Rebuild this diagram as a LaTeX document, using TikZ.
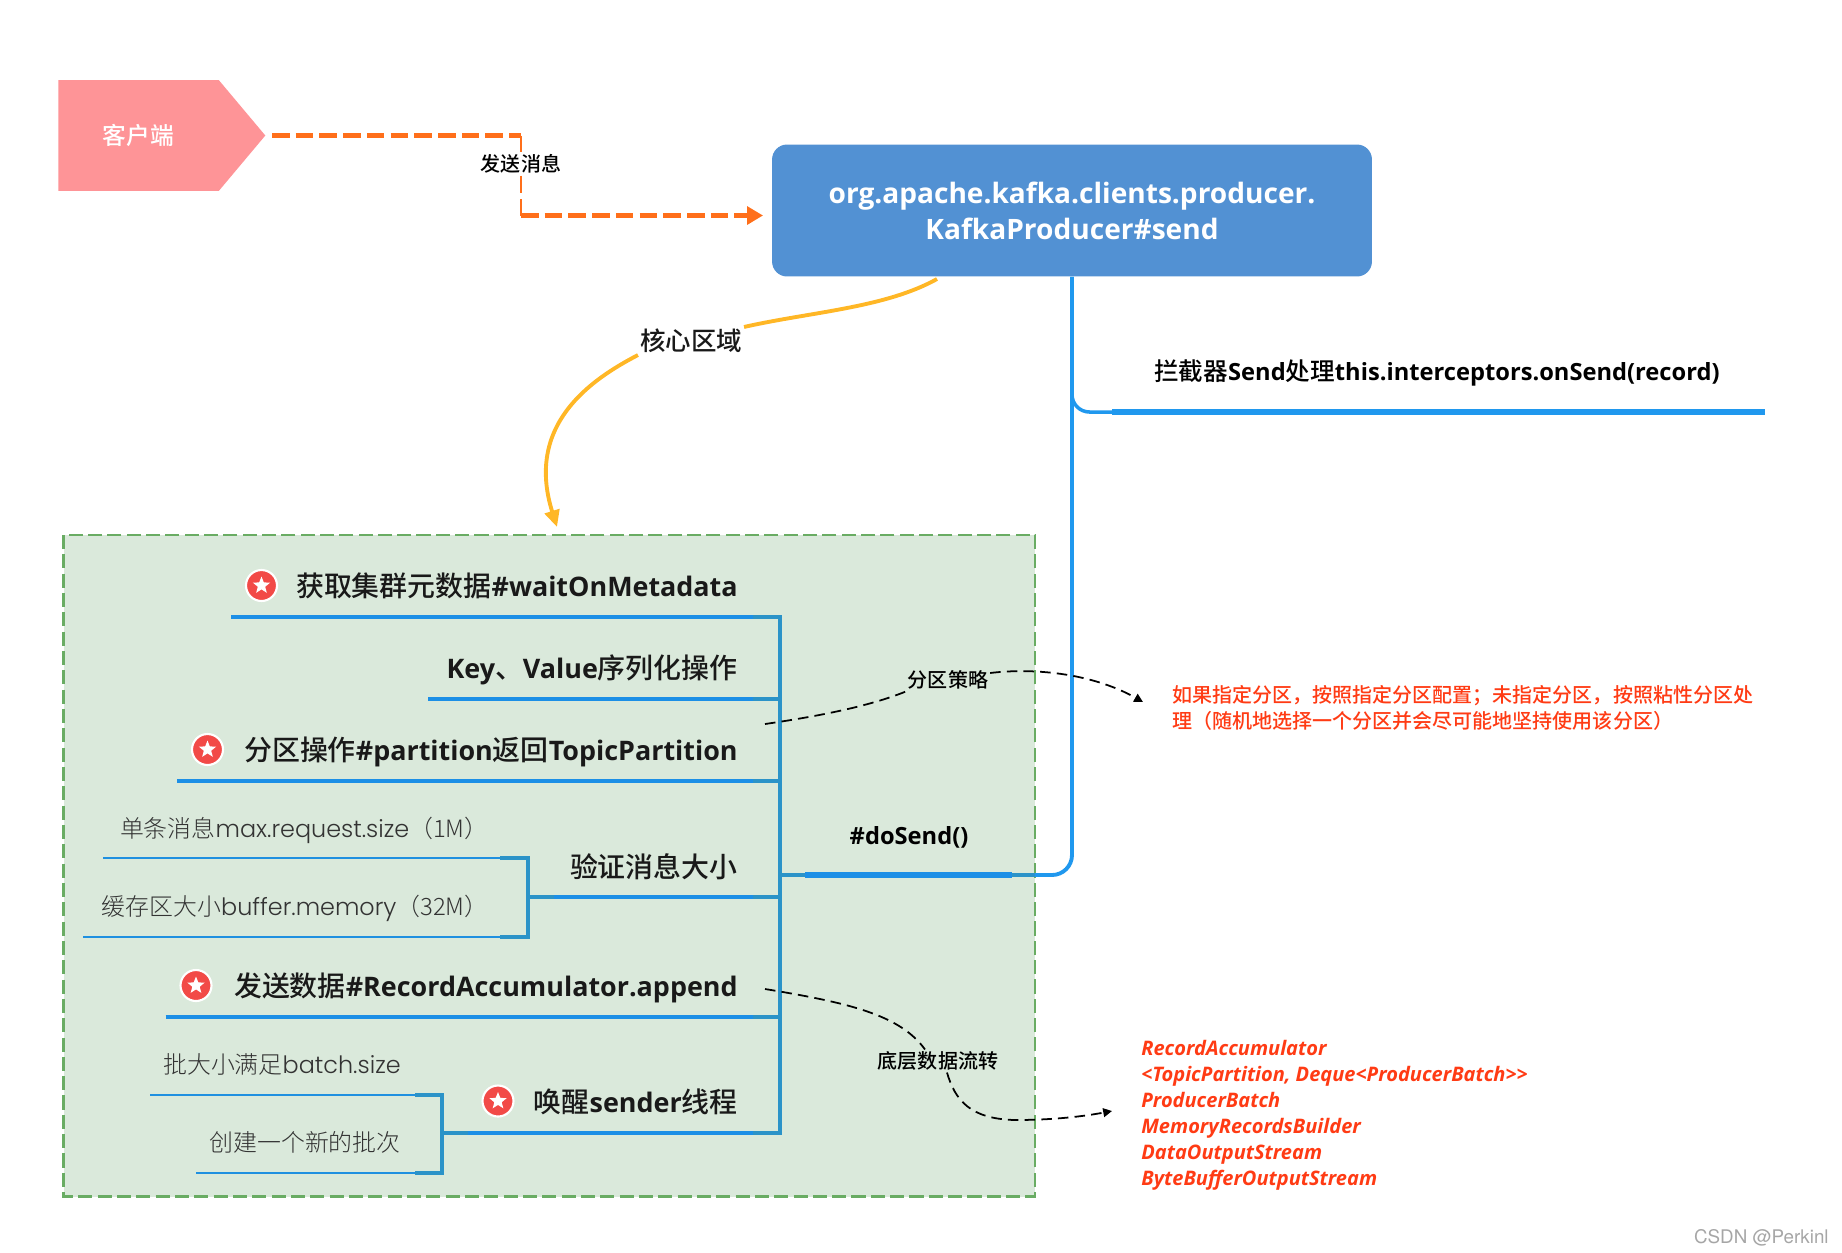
\documentclass[tikz,border=0pt]{standalone}
\usepackage{fontspec}
\usetikzlibrary{arrows.meta,shapes.geometric,shapes.symbols}
\setmainfont{Open Sans}
\newfontfamily\semilat[Scale=0.963]{Open Sans}
\newfontfamily\semicjk{Noto Sans CJK SC Medium}
\newfontfamily\thinlat{Poppins Light}
\newfontfamily\thincjk{Noto Sans CJK SC Light}
\newfontfamily\markfont{TeX Gyre Heros}
\newcommand\zh[1]{{\zhf\mdseries #1}}
\newcommand\usesemi{\let\zhf\semicjk\semilat\bfseries}
\newcommand\usethin{\let\zhf\thincjk\thinlat}
\definecolor{clientpink}{HTML}{FE9497}
\definecolor{sendorange}{HTML}{FF6F1A}
\definecolor{boxblue}{HTML}{5291D3}
\definecolor{coreyellow}{HTML}{FFB726}
\definecolor{zonefill}{HTML}{DAE9DB}
\definecolor{zoneline}{HTML}{69AC63}
\definecolor{linkblue}{HTML}{2098EE}
\definecolor{branchblue}{HTML}{1C8FE6}
\definecolor{trunkblue}{HTML}{2B93C8}
\definecolor{markred}{HTML}{F24A47}
\definecolor{notered}{HTML}{FF3B14}
\tikzset{
  clientbox/.style={signal, signal to=east, signal pointer angle=100, fill=clientpink,
    minimum width=4.14cm, minimum height=2.22cm, inner sep=0pt, anchor=west,
    text=white, font={\usesemi\fontsize{13.5}{16}\selectfont}},
  mainbox/.style={rectangle, rounded corners=0.3cm, fill=boxblue, minimum width=12cm,
    minimum height=2.64cm, align=center, text=white,
    font={\usesemi\fontsize{16.6}{20.5}\selectfont}},
  tag/.style={inner sep=1pt, font={\usesemi\fontsize{11.4}{14}\selectfont}},
  bigtag/.style={inner sep=0pt, anchor=base east, text=black!90, font={\usesemi\fontsize{15.9}{18}\selectfont}},
  thintag/.style={inner sep=0pt, anchor=base east, text=black!80, font={\usethin\fontsize{13.6}{16}\selectfont}},
  notetag/.style={inner sep=0pt, anchor=west, align=left, text=notered,
    font={\usesemi\fontsize{11.4}{15.2}\selectfont}},
  listtag/.style={inner sep=0pt, anchor=base west, text=notered,
    font={\fontsize{11.4}{14}\selectfont\bfseries\itshape}},
  sendline/.style={sendorange, line width=2.4pt, dash pattern=on 10pt off 3.5pt},
  sendstem/.style={sendorange, line width=1.5pt, dash pattern=on 10pt off 3.5pt},
  coreline/.style={coreyellow, line width=2.2pt},
  branch/.style={branchblue, line width=2.2pt},
  joint/.style={trunkblue, line width=2.5pt},
  twig/.style={branchblue!80!trunkblue, line width=1.2pt},
  noteline/.style={black, line width=1pt, dash pattern=on 6pt off 3.5pt},
  markdisc/.style={circle, fill=markred, draw=white, line width=1.2pt, minimum size=0.62cm, inner sep=0pt},
  markstar/.style={star, star points=5, star point ratio=2.3, fill=white, minimum size=0.36cm, inner sep=0pt}
}
\begin{document}
\begin{tikzpicture}[x=0.02cm, y=-0.02cm]
    \useasboundingbox (0,0) rectangle (1842,1252);

    \draw[zoneline, fill=zonefill, line width=1.5pt, dash pattern=on 8pt off 3pt] (63.5,535) rectangle (1035,1196.5);

    \node[clientbox] (client) at (58,135.5) {\zh{客户端}};
    \node[mainbox] (send) at (1072,210.5) {org.apache.kafka.clients.producer.\\KafkaProducer\#send};
    \node[tag, fill=white] (sendtag) at (521,164) {\zh{发送消息}};
    \coordinate (sendstart) at (272,135.5);
    \coordinate (sendbend) at (521,135.5);
    \coordinate (sendturn) at (521,215.5);
    \coordinate (sendend) at (763,215.5);
    \draw[sendline] (sendstart) -- (sendbend);
    \draw[sendstem] (sendbend) -- (sendtag);
    \draw[sendstem] (sendtag) -- (sendturn);
    \draw[sendline, -{Triangle[length=9pt,width=10pt]}] (sendturn) -- (sendend);

    \node[bigtag, anchor=center, fill=white, inner sep=1pt, font={\usesemi\fontsize{14.5}{18}\selectfont}] (coretag) at (691,341) {\zh{核心区域}};
    \coordinate (corestart) at (937,279);
    \coordinate (coreend) at (557,527);
    \draw[coreline] (corestart) .. controls (885,308) and (810,312) .. (coretag.north east);
    \draw[coreline, -{Triangle[length=9.5pt,width=8.5pt]}] (coretag.south west) .. controls (590,380) and (525,425) .. (coreend);

    \coordinate (filterbend) at (1072,412);
    \coordinate (filterstart) at (1112,412);
    \coordinate (filterend) at (1765,412);
    \draw[linkblue, line width=2pt, rounded corners=0.35cm] (send.south) -- (filterbend) -- (filterstart);
    \draw[linkblue, line width=3.4pt] (filterstart) -- (filterend);
    \node[tag, anchor=west, inner sep=0pt, font={\usesemi\fontsize{14}{16}\selectfont}] (filtertag) at (1154,373) {\zh{拦截器}Send\zh{处理}this.interceptors.onSend(record)};

    \foreach \i/\l/\y in {1/231/617, 2/428/699, 3/177/781, 4/554/897, 5/165.5/1017, 6/467.6/1133} {
        \coordinate (end\i) at (\l,\y);
        \coordinate (joint\i) at (753,\y);
        \coordinate (trunk\i) at (780,\y);
        \draw[branch] (end\i) -- (joint\i);
        \draw[joint] (joint\i) -- (trunk\i);
    }
    \draw[joint, line cap=rect] (trunk1) -- (trunk6);

    \coordinate (dotrunk) at (780,875);
    \coordinate (dostart) at (805,875);
    \coordinate (doend) at (1012,875);
    \coordinate (dozone) at (1035,875);
    \coordinate (dobend) at (1072,875);
    \draw[linkblue, line width=2.2pt, rounded corners=0.4cm] (doend) -- (dobend) -- (send.south);
    \draw[joint] (dotrunk) -- (dostart);
    \draw[joint] (doend) -- (dozone);
    \draw[branchblue, line width=3.4pt] (dostart) -- (doend);
    \node[tag, font={\usesemi\fontsize{14}{16}\selectfont}] (dosend) at (909,837) {\#doSend()};

    \coordinate (g1) at (528,897);
    \coordinate (g1top) at (528,858);
    \coordinate (g1low) at (528,937);
    \coordinate (g2) at (442,1133);
    \coordinate (g2top) at (442,1095);
    \coordinate (g2low) at (442,1173);
    \draw[joint] (g1) -- (end4);
    \draw[joint] (g2) -- (end6);
    \draw[joint, line cap=rect] (g1top) -- (g1low);
    \draw[joint, line cap=rect] (g2top) -- (g2low);
    \foreach \a/\l/\e/\y in {g1top/103/500/858, g1low/83/500/937, g2top/150/415/1095, g2low/196/415/1173} {
        \draw[twig] (\l,\y) -- (\e,\y);
        \draw[joint] (\e,\y) -- (\a);
    }

    \node[bigtag] (meta) at (738,596) {\zh{获取集群元数据}\#waitOnMetadata};
    \node[bigtag] (serial) at (738,678) {Key\zh{、}Value\zh{序列化操作}};
    \node[bigtag] (part) at (738,760) {\zh{分区操作}\#partition\zh{返回}TopicPartition};
    \node[bigtag] (check) at (738,877) {\zh{验证消息大小}};
    \node[bigtag] (append) at (738,996) {\zh{发送数据}\#RecordAccumulator.append};
    \node[bigtag] (wake) at (738,1112) {\zh{唤醒}sender\zh{线程}};

    \node[thintag] (single) at (489,837) {\zh{单条消息}max.request.size\zh{（1M）}};
    \node[thintag] (buffer) at (489,915) {\zh{缓存区大小}buffer.memory\zh{（32M）}};
    \node[thintag] (batch) at (401,1073) {\zh{批大小满足}batch.size};
    \node[thintag] (fresh) at (401,1151) {\zh{创建一个新的批次}};

    \foreach \i/\x/\y in {1/261.5/585.5, 2/207.5/749.5, 3/196/985.5, 4/498/1101} {
        \node[markdisc] (disc\i) at (\x,\y) {};
        \node[markstar] (star\i) at (disc\i) {};
    }

    \node[tag] (policy) at (948,680) {\zh{分区策略}};
    \coordinate (policystart) at (765,724);
    \coordinate (policyend) at (1143,702);
    \draw[noteline] (policystart) .. controls (820,716) and (870,706) .. (policy.south west);
    \draw[noteline, -{Triangle[length=5pt,width=5pt]}] ([yshift=0.14cm]policy.east) .. controls (1030,668) and (1090,672) .. (policyend);
    \node[notetag] (policynote) at (1172,708) {\zh{如果指定分区，按照指定分区配置；未指定分区，按照粘性分区处}\\\zh{理（随机地选择一个分区并会尽可能地坚持使用该分区）}};

    \node[tag] (flow) at (938,1061) {\zh{底层数据流转}};
    \coordinate (flowstart) at (765,989);
    \coordinate (flowend) at (1112,1111);
    \draw[noteline] (flowstart) .. controls (850,1003) and (900,1015) .. ([xshift=-0.26cm]flow.north);
    \draw[noteline, -{Triangle[length=5pt,width=5pt]}] ([xshift=0.18cm]flow.south) .. controls (955,1100) and (970,1119) .. (1015,1120) .. controls (1050,1120) and (1080,1117) .. (flowend);

    \node[listtag] (l1) at (1141,1055) {RecordAccumulator};
    \node[listtag] (l2) at (1141,1081) {<TopicPartition, Deque<ProducerBatch>{}>};
    \node[listtag] (l3) at (1141,1107) {ProducerBatch};
    \node[listtag] (l4) at (1141,1133) {MemoryRecordsBuilder};
    \node[listtag] (l5) at (1141,1159) {DataOutputStream};
    \node[listtag] (l6) at (1141,1185) {ByteBufferOutputStream};

    \node[inner sep=0pt, anchor=east, text=black!35, font={\markfont\fontsize{10.7}{13}\selectfont}] (csdn) at (1829,1238) {CSDN @Perkinl};
\end{tikzpicture}
\end{document}
